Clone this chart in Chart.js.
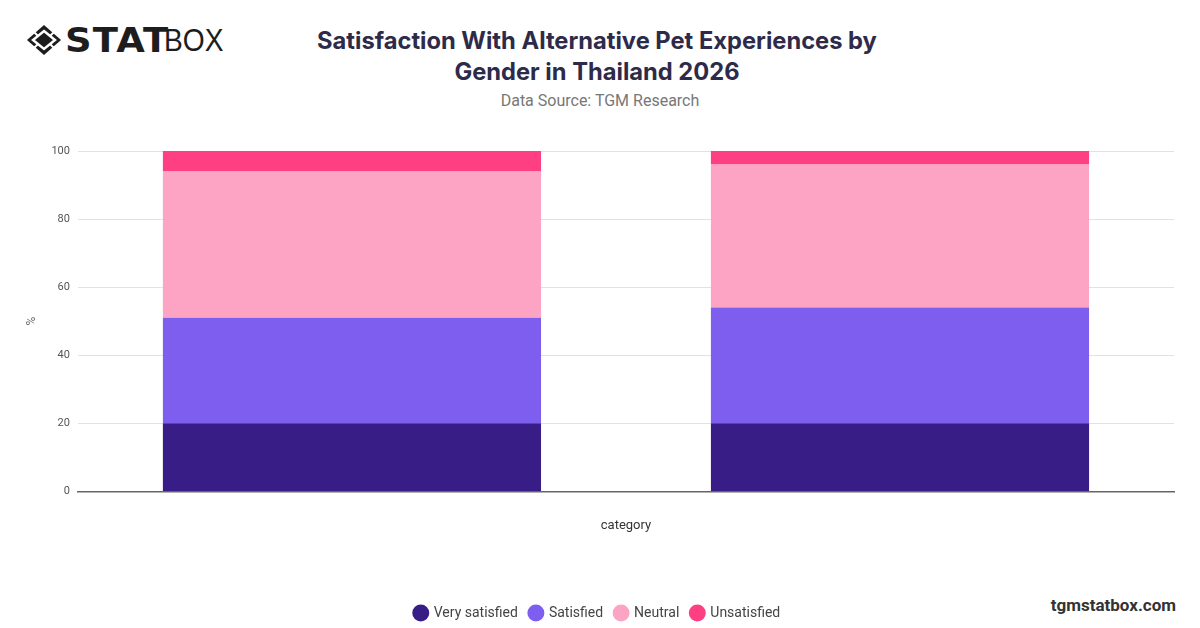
<!DOCTYPE html>
<html>
<head>
<meta charset="utf-8">
<script src="https://cdn.jsdelivr.net/npm/chart.js@4/dist/chart.umd.min.js"></script>
<style>
  body { margin: 0; width: 1200px; height: 628px; background: #fff; font-family: Inter, "Noto Sans", sans-serif; position: relative; overflow: hidden; }
  #logo { position: absolute; left: 26px; top: 22px; height: 36px; display: flex; align-items: center; }
  #logo .stat { font-family: "DejaVu Sans", sans-serif; font-weight: 900; font-size: 33px; color: #1d1d1d; letter-spacing: 1px; margin-left: 3px; transform: scaleX(1.12); transform-origin: left; display: inline-block; margin-right: 6px; }
  #logo .box { font-family: "Liberation Sans", sans-serif; font-weight: 300; font-size: 32px; color: #1d1d1d; transform: scaleX(0.88); transform-origin: left; display: inline-block; }
  #title { position: absolute; left: 0; width: 1194px; top: 25px; text-align: center; font-weight: 700; font-size: 23.7px; line-height: 31px; color: #2e2b4a; }
  #source { position: absolute; left: 0; width: 1200px; top: 91px; text-align: center; font-size: 16px; color: #777; font-family: Roboto, sans-serif; }
  #site { position: absolute; right: 24px; top: 595px; font-family: Roboto, sans-serif; font-weight: 700; font-size: 17px; color: #333; }
  #wrap { position: absolute; left: 0; top: 134px; width: 1200px; height: 496px; }
</style>
</head>
<body>
<div id="logo">
  <svg width="36" height="32" viewBox="0 0 36 32">
    <polygon points="18,1 35,16 18,31 1,16" fill="#1d1d1d"/>
    <polygon points="18,7 29,16 18,25 7,16" fill="none" stroke="#fff" stroke-width="2.5"/>
    <line x1="8" y1="8" x2="12" y2="12" stroke="#fff" stroke-width="2"/>
    <line x1="28" y1="8" x2="24" y2="12" stroke="#fff" stroke-width="2"/>
    <line x1="8" y1="24" x2="12" y2="20" stroke="#fff" stroke-width="2"/>
    <line x1="28" y1="24" x2="24" y2="20" stroke="#fff" stroke-width="2"/>
  </svg>
  <span class="stat">STAT</span><span class="box">BOX</span>
</div>
<div id="title">Satisfaction With Alternative Pet Experiences by<br>Gender in Thailand 2026</div>
<div id="source">Data Source: TGM Research</div>
<div id="site">tgmstatbox.com</div>
<div id="wrap"><canvas id="myChart"></canvas></div>
<script>
// Data
const categories = ['Male', 'Female'];
const verySatisfied = [20, 20];
const satisfied = [31, 34];
const neutral = [43, 42];
const unsatisfied = [6, 4];

const colors = ['#381d86', '#7e5eee', '#fda3c3', '#fe3f82'];

const data = {
  labels: categories,
  datasets: [
    { label: 'Very satisfied', data: verySatisfied, backgroundColor: colors[0] },
    { label: 'Satisfied', data: satisfied, backgroundColor: colors[1] },
    { label: 'Neutral', data: neutral, backgroundColor: colors[2] },
    { label: 'Unsatisfied', data: unsatisfied, backgroundColor: colors[3] }
  ]
};

const config = {
  type: 'bar',
  data,
  options: {
    responsive: true,
    maintainAspectRatio: false,
    animation: false,
    datasets: { bar: { categoryPercentage: 1, barPercentage: 0.69 } },
    layout: { padding: { top: 17, right: 26, left: 21, bottom: 0 } },
    scales: {
      x: {
        stacked: true,
        grid: { display: false },
        border: { color: '#666', width: 1.5 },
        ticks: { display: false },
        title: { display: true, text: 'category', color: '#333', font: { family: 'Roboto', size: 13 }, padding: { top: 19, bottom: 60 } }
      },
      y: {
        stacked: true,
        min: 0, max: 100,
        ticks: { stepSize: 20, color: '#555', font: { family: 'Roboto', size: 11 }, padding: 8 },
        grid: { color: '#e2e2e2', drawTicks: false },
        border: { display: false },
        title: { display: true, text: '%', color: '#666', font: { family: 'Roboto', size: 12 } }
      }
    },
    plugins: {
      legend: {
        position: 'bottom',
        labels: { usePointStyle: true, pointStyle: 'circle', boxWidth: 12, boxHeight: 12, color: '#444', font: { family: 'Roboto', size: 14 }, padding: 12 }
      },
      tooltip: { enabled: false }
    }
  }
};

var myChart = new Chart(document.getElementById('myChart'), config);
</script>
</body>
</html>
